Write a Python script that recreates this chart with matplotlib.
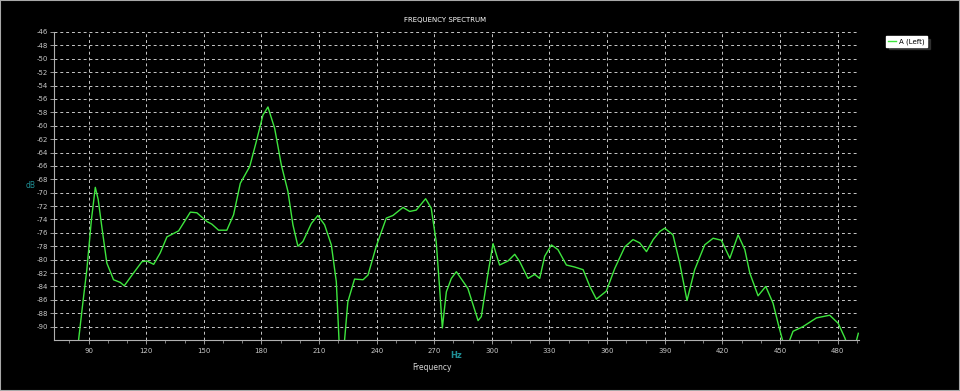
import matplotlib.pyplot as plt
import numpy as np
from matplotlib.patches import Rectangle

# spectrum trace (Hz, dB)
freq = [84.8, 87.0, 89.1, 91.5, 93.5, 95.0, 96.9, 99.5, 103.0, 106.5, 108.6, 113.4,
        117.8, 120.4, 123.9, 127.3, 130.8, 136.9, 143.0, 146.4, 151.6, 154.2, 157.7,
        162.0, 165.5, 169.0, 173.9, 177.3, 180.8, 183.4, 186.9, 190.4, 193.8, 196.4,
        199.0, 201.6, 206.0, 209.4, 212.9, 216.4, 219.0, 220.4, 221.8, 223.3, 225.0,
        228.5, 232.9, 235.5, 239.8, 245.0, 248.5, 253.7, 257.2, 260.6, 265.5, 268.4,
        271.0, 272.8, 274.2, 276.3, 278.9, 281.5, 287.5, 292.8, 294.5, 298.0, 300.6,
        304.0, 308.4, 311.9, 314.5, 318.8, 322.3, 324.9, 327.5, 331.0, 334.4, 338.8,
        343.1, 347.5, 351.0, 354.4, 359.6, 364.0, 369.2, 373.5, 377.0, 380.5, 384.0,
        387.4, 390.0, 394.3, 397.8, 401.6, 405.6, 410.8, 415.2, 419.5, 423.9, 428.2,
        431.7, 434.3, 438.6, 442.6, 446.4, 449.0, 451.3, 453.0, 455.1, 456.8, 462.0,
        469.0, 475.9, 480.3, 483.8, 486.0, 489.0, 490.8]
level = [-92.0, -86.5, -81.5, -74.0, -69.2, -71.0, -75.1, -80.5, -83.0, -83.4, -83.9, -82.0,
         -80.3, -80.2, -80.7, -79.0, -76.6, -75.7, -72.9, -73.0, -74.3, -74.7, -75.6,
         -75.6, -73.3, -68.6, -66.1, -62.4, -58.4, -57.2, -60.4, -65.9, -69.8, -74.8,
         -78.0, -77.3, -74.6, -73.4, -74.8, -77.8, -83.3, -92.0, -95.0, -92.0, -86.3,
         -82.9, -83.0, -82.3, -78.0, -73.8, -73.4, -72.2, -72.8, -72.6, -70.9, -72.3,
         -77.3, -84.3, -90.2, -84.8, -82.8, -81.8, -84.3, -89.1, -88.5, -82.0, -77.6,
         -80.8, -80.2, -79.2, -80.3, -82.8, -82.2, -82.8, -79.5, -77.8, -78.5, -80.8,
         -81.1, -81.5, -84.0, -85.9, -84.7, -81.3, -78.1, -77.0, -77.5, -78.8, -77.0,
         -75.8, -75.3, -76.3, -80.5, -86.1, -81.5, -77.8, -76.8, -77.1, -79.8, -76.3,
         -78.5, -82.0, -85.4, -84.0, -86.5, -89.5, -92.0, -94.0, -92.0, -90.7, -90.0,
         -88.7, -88.3, -89.5, -91.7, -93.5, -93.0, -91.0]

xticks = list(range(90, 481, 30))
yticks = list(range(-90, -45, 2))

fig = plt.figure(figsize=(9.6, 3.91), dpi=100, facecolor='black')
ax = fig.add_axes([54/960, 51/391, (858.7-54)/960, 308/391])
ax.set_facecolor('black')

ax.plot(freq, level, color='#3ee63e', lw=1.0, label='A (Left)', clip_on=True)

ax.set_xlim(72, 491)
ax.set_ylim(-92, -46)
ax.set_xticks(xticks)
ax.set_xticks(range(80, 491, 10), minor=True)
ax.set_yticks(yticks)
ax.set_yticklabels([str(v) for v in yticks])

ax.grid(True, which='major', color='#c8c8c8', lw=0.7, linestyle=(0, (3, 3)))
for s in ['top', 'right']:
    ax.spines[s].set_visible(False)
for s in ['left', 'bottom']:
    ax.spines[s].set_color('#b0b0b0')
    ax.spines[s].set_linewidth(0.8)
ax.tick_params(colors='#b0b0b0', labelcolor='#c8c8c8', labelsize=5, length=3, width=0.6, pad=1.5)
ax.tick_params(axis='x', which='minor', colors='#b0b0b0', length=2, width=0.5)
ax.tick_params(axis='x', pad=3)

fig.text(445/960, 1 - 20/391, 'FREQUENCY SPECTRUM', color='white', fontsize=5,
         ha='center', va='center')
fig.text(31/960, 1 - 185/391, 'dB', color='#1f8f95', fontsize=5.5, ha='center', va='center')
fig.text(456/960, 1 - 356/391, 'Hz', color='#1f8f95', fontsize=6, fontweight='bold',
         ha='center', va='center')
fig.text(432/960, 1 - 368/391, 'Frequency', color='#d8d8d8', fontsize=5.5,
         ha='center', va='center')

leg = fig.legend(loc='upper left', bbox_to_anchor=(886/960, 1 - 36/391), fontsize=5,
                 frameon=True, fancybox=False, shadow=True, handlelength=1.2,
                 borderpad=0.3, handletextpad=0.4, borderaxespad=0)
leg.get_frame().set_facecolor('white')
leg.get_frame().set_edgecolor('white')
for t in leg.get_texts():
    t.set_color('black')

# thin light border round the whole picture
fig.patches.append(Rectangle((0, 0), 1, 1, transform=fig.transFigure, fill=False,
                             edgecolor='#a8a8a8', lw=1.5))

fig.savefig('out.png', dpi=100, facecolor='black')
